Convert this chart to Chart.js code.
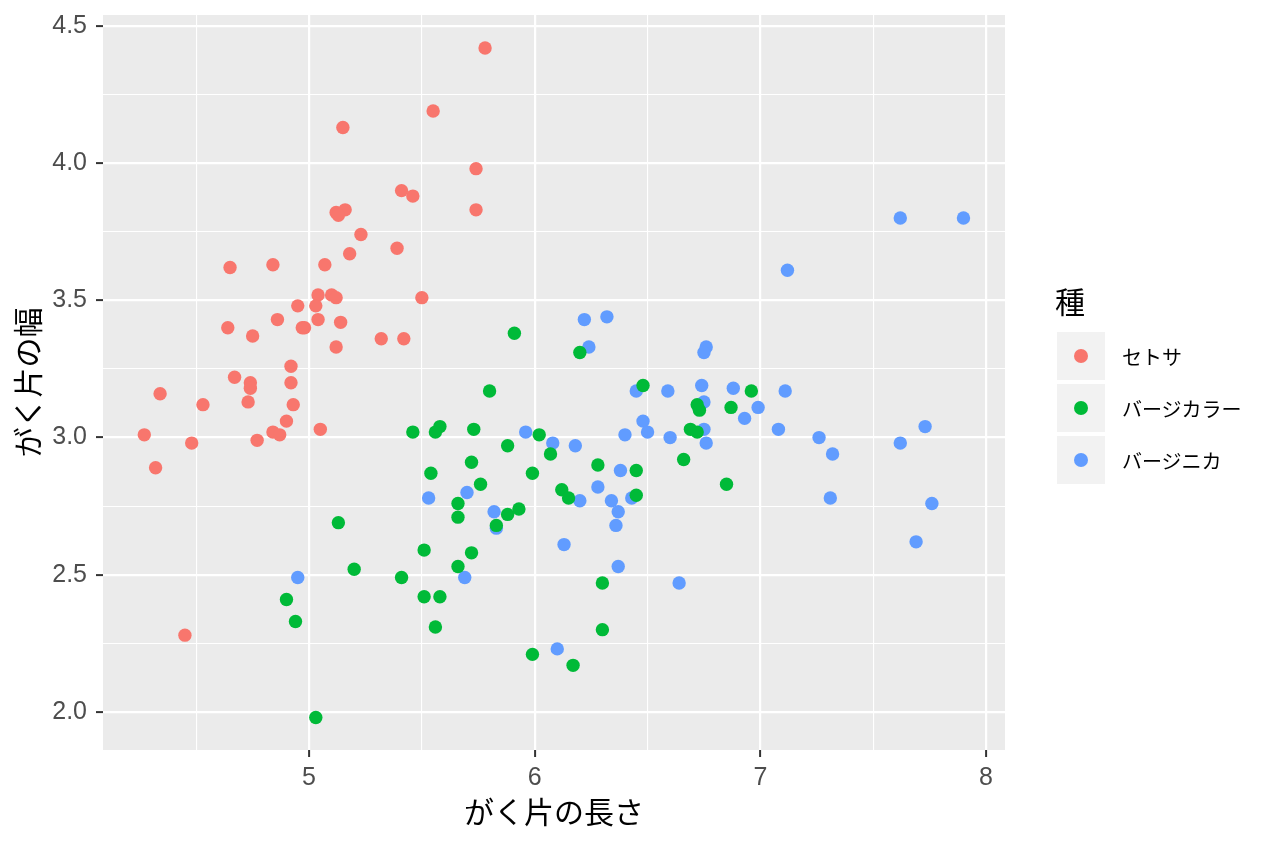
<!DOCTYPE html>
<html>
<head>
<meta charset="utf-8">
<script src="https://cdn.jsdelivr.net/npm/chart.js@4.4.1/dist/chart.umd.min.js"></script>
<style>
  body { margin: 0; background: #fff; }
  #wrap { position: relative; width: 1264px; height: 848px; }
  #legend { position: absolute; left: 1055px; top: 278px; font-family: 'Noto Sans CJK JP', sans-serif; color: #000; }
  #legend .title { font-size: 30px; line-height: 44px; height: 54px; }
  #legend .row { display: flex; align-items: center; height: 48px; margin-bottom: 4px; }
  #legend .key { width: 48px; height: 48px; background: #F2F2F2; margin-left: 2px; position: relative; }
  #legend .dot { position: absolute; left: 17px; top: 17px; width: 14px; height: 14px; border-radius: 50%; }
  #legend .lab { font-size: 20px; margin-left: 17px; }
</style>
</head>
<body>
<div id="wrap">
  <canvas id="scatterChart" width="1264" height="848"></canvas>
  <div id="legend"></div>
</div>
<script>
// species (legend order) and ggplot colours
const speciesNames = ['セトサ', 'バージカラー', 'バージニカ']
const speciesColors = ['#F8766D', '#00BA38', '#619CFF']

// sepal length / width
const setosaX = [5.78, 5.55, 5.15, 5.74, 5.74, 5.41, 5.46, 5.12, 5.16, 5.13,
  5.23, 5.39, 5.18, 4.65, 4.84, 5.07, 5.04, 5.10, 5.12, 5.03,
  5.50, 4.95, 4.75, 4.64, 4.86, 4.97, 4.98, 5.04, 5.14, 5.12,
  5.32, 5.42, 4.92, 4.67, 4.34, 4.74, 4.74, 4.53, 4.73, 4.93,
  4.92, 4.90, 4.84, 4.87, 5.05, 4.27, 4.48, 4.77, 4.32, 4.45]
const setosaY = [4.42, 4.19, 4.13, 3.98, 3.83, 3.90, 3.88, 3.82, 3.83, 3.81,
  3.74, 3.69, 3.67, 3.62, 3.63, 3.63, 3.52, 3.52, 3.51, 3.48,
  3.51, 3.48, 3.37, 3.40, 3.43, 3.40, 3.40, 3.43, 3.42, 3.33,
  3.36, 3.36, 3.26, 3.22, 3.16, 3.20, 3.18, 3.12, 3.13, 3.12,
  3.20, 3.06, 3.02, 3.01, 3.03, 3.01, 2.98, 2.99, 2.89, 2.28]

const versicolorX = [5.91, 6.20, 5.80, 6.48, 5.46, 5.58, 5.56, 5.73, 6.02, 5.88,
  6.07, 5.72, 5.54, 5.99, 5.76, 6.28, 6.45, 6.66, 6.69, 6.72,
  6.73, 6.72, 6.12, 6.15, 6.45, 6.96, 6.87, 6.85, 5.66, 5.66,
  5.83, 5.88, 5.93, 5.51, 5.72, 5.66, 5.41, 6.30, 5.51, 5.58,
  5.56, 6.30, 5.99, 6.17, 5.13, 5.20, 4.90, 4.94, 5.03]
const versicolorY = [3.38, 3.31, 3.17, 3.19, 3.02, 3.04, 3.02, 3.03, 3.01, 2.97,
  2.94, 2.91, 2.87, 2.87, 2.83, 2.90, 2.88, 2.92, 3.03, 3.12,
  3.10, 3.02, 2.81, 2.78, 2.79, 3.17, 3.11, 2.83, 2.76, 2.71,
  2.68, 2.72, 2.74, 2.59, 2.58, 2.53, 2.49, 2.47, 2.42, 2.42,
  2.31, 2.30, 2.21, 2.17, 2.69, 2.52, 2.41, 2.33, 1.98]

const virginicaX = [7.62, 7.90, 7.12, 6.76, 6.75, 6.74, 6.88, 7.11, 6.75, 6.99,
  6.93, 6.75, 7.08, 6.76, 7.26, 7.32, 7.62, 7.73, 7.31, 7.76,
  7.69, 6.22, 6.32, 6.24, 6.45, 6.59, 6.48, 6.50, 6.40, 6.60,
  5.96, 6.08, 6.18, 6.38, 6.28, 5.53, 5.70, 6.20, 6.34, 6.43,
  6.37, 6.36, 5.82, 5.83, 6.13, 5.69, 6.37, 6.64, 6.10, 4.95]
const virginicaY = [3.80, 3.80, 3.61, 3.33, 3.31, 3.19, 3.18, 3.17, 3.13, 3.11,
  3.07, 3.03, 3.03, 2.98, 3.00, 2.94, 2.98, 3.04, 2.78, 2.76,
  2.62, 3.43, 3.44, 3.33, 3.17, 3.17, 3.06, 3.02, 3.01, 3.00,
  3.02, 2.98, 2.97, 2.88, 2.82, 2.78, 2.80, 2.77, 2.77, 2.78,
  2.73, 2.68, 2.73, 2.67, 2.61, 2.49, 2.53, 2.47, 2.23, 2.49]

// tick values (major get labels, minor only grid lines)
const xMajor = [5, 6, 7, 8]
const xMinor = [4.5, 5.5, 6.5, 7.5]
const yMajor = [2.0, 2.5, 3.0, 3.5, 4.0, 4.5]
const yMinor = [2.25, 2.75, 3.25, 3.75, 4.25]

const tickFont = { family: "'Liberation Sans', Arial, sans-serif", size: 25 }
const titleFont = { family: "'Noto Sans CJK JP', sans-serif", size: 30 }

function toPoints(xs, ys){
    return xs.map((x, i) => ({ x: x, y: ys[i] }))
}

function isMajor(list, ctx){
    return ctx.tick && list.some(v => Math.abs(v - ctx.tick.value) < 1e-6)
}

const panelBg = {
    id: 'panelBg',
    beforeDraw(chart){
        const { ctx, chartArea: a } = chart
        ctx.save()
        ctx.fillStyle = '#EBEBEB'
        ctx.fillRect(a.left, a.top, a.right - a.left, a.bottom - a.top)
        ctx.restore()
    }
}

// no label overhang padding, the panel edges are set by layout.padding
function noOverhang(s){
    s.paddingTop = 0
    s.paddingBottom = 0
    s.paddingLeft = 0
    s.paddingRight = 0
}

function axis(major, minor, extra){
    return Object.assign({
        type: 'linear',
        afterBuildTicks: s => { s.ticks = minor.concat(major).sort((a, b) => a - b).map(v => ({ value: v })) },
        border: { display: false },
        grid: {
            color: '#FFFFFF',
            lineWidth: ctx => isMajor(major, ctx) ? 2.2 : 1.1,
            tickColor: ctx => isMajor(major, ctx) ? '#333333' : 'rgba(0,0,0,0)',
            tickWidth: 2,
            tickLength: 7
        }
    }, extra)
}

const datasets = [
    toPoints(setosaX, setosaY),
    toPoints(versicolorX, versicolorY),
    toPoints(virginicaX, virginicaY)
].map((pts, i) => ({
    label: speciesNames[i],
    data: pts,
    pointRadius: 6.7,
    pointBorderWidth: 0,
    pointBackgroundColor: speciesColors[i],
    pointHoverRadius: 6.7
}))

const scatterChart = new Chart(document.querySelector('#scatterChart'), {
    type: 'scatter',
    data: { datasets: datasets },
    plugins: [panelBg],
    options: {
        responsive: false,
        animation: false,
        layout: { padding: { left: 0, top: 15, right: 259, bottom: 0 } },
        plugins: { legend: { display: false }, tooltip: { enabled: false } },
        scales: {
            x: axis(xMajor, xMinor, {
                min: 4.087, max: 8.084,
                afterFit: s => { s.height = 98; noOverhang(s) },
                ticks: {
                    callback: v => xMajor.includes(v) ? String(v) : '',
                    font: tickFont, color: '#4D4D4D', padding: 6,
                    maxRotation: 0, autoSkip: false
                },
                title: { display: true, text: 'がく片の長さ', font: titleFont, color: '#000', padding: { bottom: 18 } }
            }),
            y: axis(yMajor, yMinor, {
                min: 1.8615, max: 4.540,
                afterFit: s => { s.width = 103; noOverhang(s) },
                ticks: {
                    callback: v => yMajor.some(m => Math.abs(m - v) < 1e-6) ? v.toFixed(1) : '',
                    font: tickFont, color: '#4D4D4D', padding: 9, autoSkip: false
                },
                title: { display: true, text: 'がく片の幅', font: titleFont, color: '#000', padding: { top: 10 } }
            })
        }
    }
})

// ggplot style legend
const legend = document.querySelector('#legend')
let html = '<div class="title">種</div>'
speciesNames.forEach((name, i) => {
    html += '<div class="row"><div class="key"><div class="dot" style="background:' + speciesColors[i] + '"></div></div>' +
        '<div class="lab">' + name + '</div></div>'
})
legend.innerHTML = html
</script>
</body>
</html>
